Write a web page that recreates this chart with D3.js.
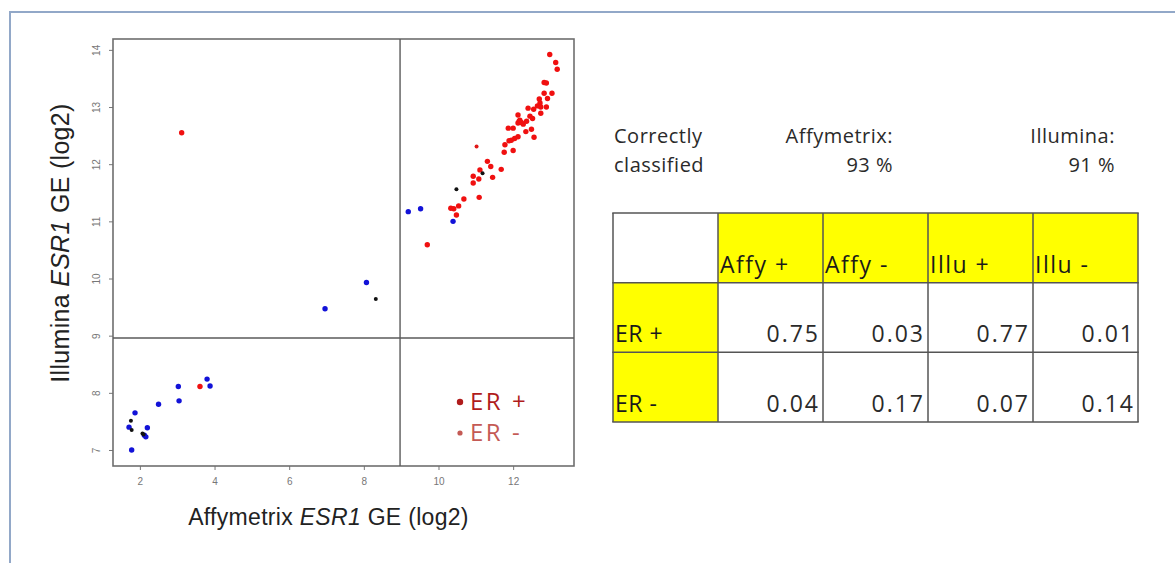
<!DOCTYPE html>
<html>
<head>
<meta charset="utf-8">
<script src="https://cdn.jsdelivr.net/npm/d3@7"></script>
<style>
  body { margin: 0; background: #fff; }
  svg { display: block; }
</style>
</head>
<body>
<div id="chart"></div>
<script>
// scatter data: [Affymetrix, Illumina] ESR1 log2 expression
var redPoints = [
  [12.98, 13.92], [13.14, 13.78], [13.18, 13.66], [12.83, 13.43], [12.89, 13.42],
  [12.83, 13.24], [13.04, 13.24], [12.70, 13.14], [12.92, 13.15], [12.72, 13.07],
  [12.65, 13.02], [12.74, 13.00], [12.89, 13.00], [12.40, 12.98], [12.55, 12.96],
  [12.74, 12.89], [12.13, 12.86], [12.45, 12.84], [12.52, 12.80], [12.16, 12.75],
  [12.22, 12.73], [12.13, 12.72], [12.27, 12.70], [12.18, 12.77], [12.36, 12.75],
  [11.87, 12.63], [12.00, 12.63], [12.34, 12.57], [12.49, 12.61], [12.13, 12.48],
  [12.04, 12.45], [11.95, 12.42], [11.89, 12.41], [12.56, 12.47], [11.78, 12.34],
  [12.00, 12.24], [11.76, 12.21], [11.31, 12.05], [11.40, 11.96], [11.68, 11.91],
  [11.11, 11.90], [10.93, 11.79], [11.08, 11.74], [11.45, 11.77], [10.93, 11.67],
  [10.68, 11.39], [11.09, 11.42], [10.33, 11.23], [10.41, 11.22], [10.54, 11.27],
  [10.48, 11.11], [9.70, 10.59], [3.12, 12.55], [3.61, 8.11]
];
var smallRedPoints = [[11.02, 12.31]];
var bluePoints = [
  [9.19, 11.17], [9.52, 11.22], [10.39, 11.00], [6.96, 9.47], [8.07, 9.93],
  [3.80, 8.24], [3.88, 8.12], [3.03, 8.11], [3.05, 7.86], [2.50, 7.80],
  [1.87, 7.65], [1.71, 7.40], [2.20, 7.39], [2.16, 7.23], [2.12, 7.26], [1.78, 7.00]
];
var blackPoints = [
  [11.18, 11.84], [10.48, 11.56], [8.32, 9.64], [1.76, 7.51], [1.78, 7.35],
  [2.07, 7.29], [2.10, 7.27]
];
var xTicks = [2, 4, 6, 8, 10, 12];
var yTicks = [7, 8, 9, 10, 11, 12, 13, 14];
var cutAffy = 8.97, cutIllu = 8.96;

// classification table
var colLabels = ["", "Affy +", "Affy -", "Illu +", "Illu -"];
var rowLabels = ["ER +", "ER -"];
var tableValues = [
  [0.75, 0.03, 0.77, 0.01],
  [0.04, 0.17, 0.07, 0.14]
];
var platforms = ["Affymetrix:", "Illumina:"];
var correctPct = ["93 %", "91 %"];
var legendLabels = ["ER +", "ER -"];

var W = 1175, H = 563;
var svg = d3.select("#chart").append("svg")
    .attr("width", W)
    .attr("height", H);

// slide frame
svg.append("path")
    .attr("d", "M10,563 V12 H1175")
    .attr("fill", "none")
    .attr("stroke", "#92a8c8")
    .attr("stroke-width", 2);

var plot = {left: 113, top: 39, right: 574, bottom: 466};

var x = d3.scaleLinear().domain([1.28, 13.63]).range([plot.left, plot.right]);
var y = d3.scaleLinear().domain([6.72, 14.19]).range([plot.bottom, plot.top]);

// axes
var yAxis = svg.append("g")
    .attr("transform", "translate(" + plot.left + ",0)")
    .call(d3.axisLeft(y).tickValues(yTicks).tickSize(4).tickFormat(d3.format("d")));
yAxis.select(".domain").remove();
yAxis.selectAll("line").attr("stroke", "#777");
yAxis.selectAll("text")
    .attr("transform", "rotate(-90)")
    .attr("x", 0)
    .attr("y", -13)
    .attr("dy", null)
    .attr("text-anchor", "middle")
    .attr("fill", "#777")
    .style("font", "10px 'Liberation Sans', Arial, sans-serif");

var xAxis = svg.append("g")
    .attr("transform", "translate(0," + plot.bottom + ")")
    .call(d3.axisBottom(x).tickValues(xTicks).tickSize(4).tickFormat(d3.format("d")));
xAxis.select(".domain").remove();
xAxis.selectAll("line").attr("stroke", "#777");
xAxis.selectAll("text")
    .attr("y", 12)
    .attr("fill", "#777")
    .style("font", "10px 'Liberation Sans', Arial, sans-serif");

// box and cut-off lines
svg.append("rect")
    .attr("x", plot.left).attr("y", plot.top)
    .attr("width", plot.right - plot.left)
    .attr("height", plot.bottom - plot.top)
    .attr("fill", "none")
    .attr("stroke", "#6e6e6e")
    .attr("stroke-width", 1.6);

svg.append("line")
    .attr("x1", x(cutAffy)).attr("x2", x(cutAffy))
    .attr("y1", plot.top).attr("y2", plot.bottom)
    .attr("stroke", "#5a5a5a").attr("stroke-width", 1.4);
svg.append("line")
    .attr("x1", plot.left).attr("x2", plot.right)
    .attr("y1", y(cutIllu)).attr("y2", y(cutIllu))
    .attr("stroke", "#5a5a5a").attr("stroke-width", 1.4);

// points
function drawPoints(data, color, r) {
  svg.append("g").selectAll("circle")
      .data(data)
      .enter().append("circle")
      .attr("cx", function(d) { return x(d[0]); })
      .attr("cy", function(d) { return y(d[1]); })
      .attr("r", r)
      .attr("fill", color);
}
drawPoints(redPoints, "#f01010", 2.7);
drawPoints(smallRedPoints, "#e01818", 2);
drawPoints(bluePoints, "#1212d8", 2.7);
drawPoints(blackPoints, "#111", 2);

// axis titles
var xTitle = svg.append("text")
    .attr("x", (plot.left + plot.right) / 2 - 15)
    .attr("y", 525)
    .attr("text-anchor", "middle")
    .attr("fill", "#222")
    .style("font", "23px 'Liberation Sans', Arial, sans-serif")
    .style("letter-spacing", "0.3px");
xTitle.append("tspan").text("Affymetrix ");
xTitle.append("tspan").style("font-style", "italic").text("ESR1");
xTitle.append("tspan").text(" GE (log2)");

var yTitle = svg.append("text")
    .attr("transform", "translate(69,243) rotate(-90)")
    .attr("text-anchor", "middle")
    .attr("fill", "#222")
    .style("font", "25px 'Liberation Sans', Arial, sans-serif")
    .style("letter-spacing", "0.3px");
yTitle.append("tspan").text("Illumina ");
yTitle.append("tspan").style("font-style", "italic").text("ESR1");
yTitle.append("tspan").text(" GE (log2)");

// legend
var legendColors = ["#b01c1c", "#c45a55"];
var legend = svg.append("g").selectAll("g")
    .data(legendLabels)
    .enter().append("g")
    .attr("transform", function(d, i) { return "translate(460," + (410 + i * 31) + ")"; });
legend.append("circle")
    .attr("cx", 0).attr("cy", -8)
    .attr("r", function(d, i) { return i === 0 ? 3.2 : 2.6; })
    .attr("fill", function(d, i) { return legendColors[i]; });
legend.append("text")
    .attr("x", 10)
    .attr("fill", function(d, i) { return legendColors[i]; })
    .style("font", "24px 'Open Sans', sans-serif")
    .style("letter-spacing", "2.5px")
    .text(function(d) { return d; });

// summary text
var textFont = "20px 'Open Sans', sans-serif";
svg.append("text").attr("x", 614).attr("y", 143).attr("fill", "#2a2a2a")
    .style("font", textFont).style("letter-spacing", "0.5px").text("Correctly");
svg.append("text").attr("x", 614).attr("y", 172).attr("fill", "#2a2a2a")
    .style("font", textFont).style("letter-spacing", "0.5px").text("classified");
var summaryRight = [893, 1115];
platforms.forEach(function(p, i) {
  svg.append("text").attr("x", summaryRight[i]).attr("y", 143)
      .attr("text-anchor", "end").attr("fill", "#2a2a2a")
      .style("font", textFont).style("letter-spacing", "0.5px").text(p);
  svg.append("text").attr("x", summaryRight[i]).attr("y", 172)
      .attr("text-anchor", "end").attr("fill", "#2a2a2a")
      .style("font", textFont).style("letter-spacing", "0.5px").text(correctPct[i]);
});

// table
var colX = d3.scaleBand().domain(colLabels).range([613, 1138]);
var rowY = d3.scaleBand().domain(["header"].concat(rowLabels)).range([213, 422]);
var cellFont = "23px 'Open Sans', sans-serif";
var table = svg.append("g");

// yellow header cells
table.selectAll(".hcell")
    .data(colLabels.slice(1))
    .enter().append("rect")
    .attr("x", function(d) { return colX(d); })
    .attr("y", rowY("header"))
    .attr("width", colX.bandwidth())
    .attr("height", rowY.bandwidth())
    .attr("fill", "#ffff00");
table.selectAll(".rcell")
    .data(rowLabels)
    .enter().append("rect")
    .attr("x", colX(""))
    .attr("y", function(d) { return rowY(d); })
    .attr("width", colX.bandwidth())
    .attr("height", rowY.bandwidth())
    .attr("fill", "#ffff00");

// grid lines
colX.domain().concat(["end"]).forEach(function(c, i) {
  var xx = i < colLabels.length ? colX(c) : colX.range()[1];
  table.append("line")
      .attr("x1", xx).attr("x2", xx)
      .attr("y1", rowY.range()[0]).attr("y2", rowY.range()[1])
      .attr("stroke", "#555").attr("stroke-width", 1.5);
});
rowY.domain().concat(["end"]).forEach(function(r, i) {
  var yy = i < rowY.domain().length ? rowY(r) : rowY.range()[1];
  table.append("line")
      .attr("x1", colX.range()[0] - 0.75).attr("x2", colX.range()[1] + 0.75)
      .attr("y1", yy).attr("y2", yy)
      .attr("stroke", "#555").attr("stroke-width", 1.5);
});

// header text
table.selectAll(".htext")
    .data(colLabels.slice(1))
    .enter().append("text")
    .attr("x", function(d) { return colX(d) + 2; })
    .attr("y", rowY("header") + rowY.bandwidth() - 10)
    .attr("fill", "#1a1a1a")
    .style("font", cellFont)
    .style("letter-spacing", "1.5px")
    .text(function(d) { return d; });
table.selectAll(".rtext")
    .data(rowLabels)
    .enter().append("text")
    .attr("x", colX("") + 2)
    .attr("y", function(d) { return rowY(d) + rowY.bandwidth() - 10; })
    .attr("fill", "#1a1a1a")
    .style("font", cellFont)
    .style("letter-spacing", "0.5px")
    .text(function(d) { return d; });

// values
tableValues.forEach(function(row, ri) {
  row.forEach(function(v, ci) {
    var col = colLabels[ci + 1];
    table.append("text")
        .attr("x", colX(col) + colX.bandwidth() - 3)
        .attr("y", rowY(rowLabels[ri]) + rowY.bandwidth() - 10)
        .attr("text-anchor", "end")
        .attr("fill", "#2a2a2a")
        .style("font", cellFont)
        .style("letter-spacing", "2px")
        .text(d3.format(".2f")(v));
  });
});
</script>
</body>
</html>
